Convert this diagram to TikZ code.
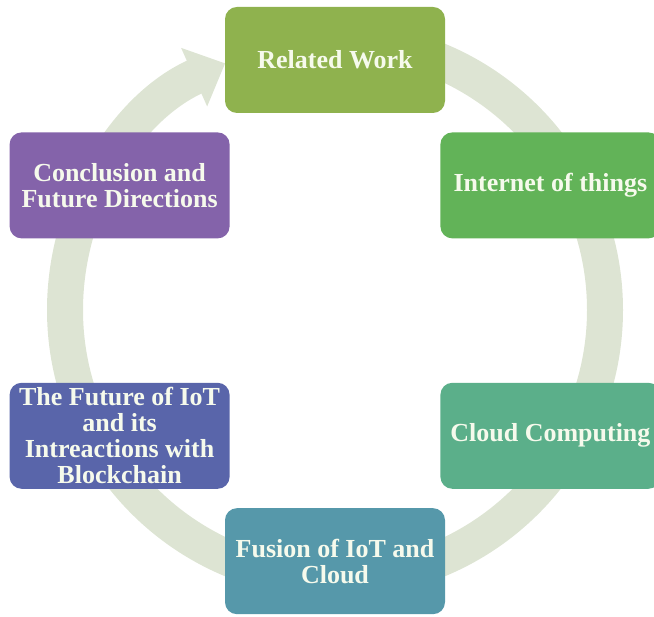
\documentclass[tikz,border=0pt]{standalone}
\usepackage{fontspec}
\setmainfont{Liberation Serif}
\usepackage{tikz}
\usetikzlibrary{arrows.meta}
\usetikzlibrary{positioning}

\definecolor{ringgrey}{RGB}{221,228,211}
\definecolor{relgreen}{RGB}{143,178,78}
\definecolor{iotgreen}{RGB}{98,179,88}
\definecolor{cloudgreen}{RGB}{91,175,138}
\definecolor{fusionteal}{RGB}{86,152,170}
\definecolor{futureblue}{RGB}{89,101,170}
\definecolor{conclpurple}{RGB}{132,99,170}
\definecolor{stagetext}{RGB}{246,250,236}

\begin{document}
\begin{tikzpicture}[x=1pt,y=1pt,
                    stage/.style={rectangle,rounded corners=12pt,minimum width=220pt,
                    minimum height=106pt,inner sep=0pt,align=center,text=stagetext,
                    font=\bfseries\fontsize{26}{26}\selectfont}]

  \useasboundingbox (0,0) rectangle (654,617);

  % ring behind the stages
  \coordinate (hub) at (335,307);
  \draw[ringgrey,line width=36pt,-{Triangle[length=34pt,width=62pt]}]
    (hub) ++(90:270) arc[start angle=90,end angle=-246,radius=270];

  \node[stage,fill=relgreen] (related) at (335,557) {Related Work};
  \node[stage,fill=iotgreen] (iot) [below right=19pt and -5pt of related] {Internet of things};
  \node[stage,fill=cloudgreen] (cloud) [below=144pt of iot] {Cloud Computing};
  \node[stage,fill=fusionteal] (fusion) [below left=19pt and -5pt of cloud] {Fusion of IoT and\\Cloud};
  \node[stage,fill=futureblue] (future) [above left=19pt and -5pt of fusion]
    {The Future of IoT\\and its\\Intreactions with\\Blockchain};
  \node[stage,fill=conclpurple] (concl) [above=144pt of future] {Conclusion and\\Future Directions};
\end{tikzpicture}
\end{document}
